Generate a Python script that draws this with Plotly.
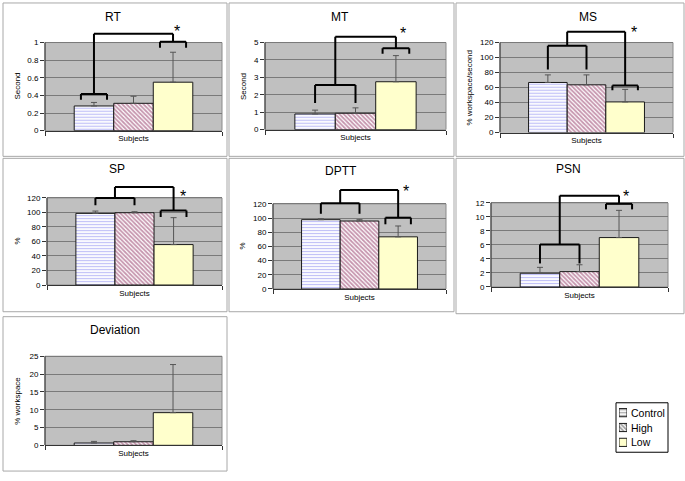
import plotly.graph_objects as go

# ---------------- data ----------------
groups = ["Control", "High", "Low"]
category = ["Subjects"]
titles = ["RT", "MT", "MS", "SP", "DPTT", "PSN", "Deviation"]
y_titles = ["Second", "Second", "% workspace/second", "%", "%", "", "% workspace"]

control_mean = [0.28, 0.90, 66.8, 98.7, 97.7, 1.96, 0.65]
control_err = [0.04, 0.22, 10.1, 3.2, 1.3, 0.84, 0.45]
high_mean = [0.31, 0.94, 63.7, 99.6, 95.8, 2.19, 1.0]
high_err = [0.08, 0.31, 13.2, 1.4, 1.9, 0.98, 0.3]
low_mean = [0.55, 2.75, 40.9, 55.7, 73.5, 7.05, 9.17]
low_err = [0.34, 1.50, 16.7, 37.1, 15.3, 3.88, 13.5]

y_max = [1, 5, 120, 120, 120, 12, 25]
y_dtick = [0.2, 1, 20, 20, 20, 2, 5]

# significance brackets (data units); None = no bracket
bracket_a_span = ["ctrl", "pair", "pair", "pair", "pair", "pair", None]
bracket_a_y = [0.415, 2.57, 115.6, 120, 120.9, 6.07, None]
bracket_a_leg = [0.35, 1.53, 84, 110, 106, 3.36, None]
bracket_b_y = [1.01, 4.68, 62.9, 102.8, 100.5, 11.86, None]
bracket_b_leg = [0.94, 4.36, 56.3, 93.7, 91.2, 11.07, None]
bracket_top = [1.10, 5.34, 134.5, 135, 139.5, 13.03, None]
star_y = [1.17, 5.76, 138.5, 127.7, 143, 13.5, None]
star_dx = [4, 7, 9, 9, 8, 7, 0]

# ---------------- layout geometry (px) ----------------
W, H = 685, 481
plot_left = [45, 265, 500, 47, 273, 491, 45]
plot_right = [222, 446, 673, 222, 446, 668, 222]
zero_px = [132, 131, 134, 288, 292, 290, 450]
top_tick_px = [43, 43, 43, 200, 206, 205, 360]
head_px = 20
title_pos = [(113, 17), (340, 17), (588, 17), (117, 171), (341, 173), (568, 171), (115, 333)]
ytitle_x = [18, 243, 470, 17, 242, 0, 18]
panel_boxes = [(3, 3, 227, 158), (229, 3, 454, 158), (456, 3, 684, 158),
               (3, 160, 227, 315), (229, 160, 454, 315), (456, 160, 684, 317),
               (3, 320, 227, 476)]
legend_box = (616, 407, 668, 457)
legend_icon_x = (619, 627)
legend_rows_y = (409.5, 454.5)
legend_text_x = 629

FONT = "Liberation Sans, Arial, sans-serif"
BARGAP = 0.33
bw = (1 - BARGAP) / 3
centers = [-bw, 0.0, bw]

fills = ["white", "white", "#ffffcc"]
pat_shapes = ["-", "\\", ""]
pat_fg = ["#7f7fef", "#8e2d5e", "#ffffcc"]
pat_size = [3, 3, 3]
pat_solid = [0.4, 0.6, 0.3]


def style(g):
    m = dict(color=fills[g], line=dict(color="#1a1a1a", width=1))
    if pat_shapes[g]:
        m["pattern"] = dict(shape=pat_shapes[g], fgcolor=pat_fg[g], bgcolor="white",
                            size=pat_size[g], solidity=pat_solid[g])
    return m


means = [control_mean, high_mean, low_mean]
errs = [control_err, high_err, low_err]

fig = go.Figure()
shapes = []
annotations = []

for b in panel_boxes:
    shapes.append(dict(type="rect", xref="paper", yref="paper",
                       x0=b[0] / W, x1=b[2] / W, y0=1 - b[3] / H, y1=1 - b[1] / H,
                       line=dict(color="#a8a8a8", width=1), layer="below"))

tick_font = dict(size=8, family=FONT, color="black")

for i in range(len(titles)):
    sfx = "" if i == 0 else str(i + 1)
    xa, ya = "x" + sfx, "y" + sfx
    for g in range(3):
        fig.add_trace(go.Bar(
            x=category, y=[means[g][i]], name=groups[g], marker=style(g),
            xaxis=xa, yaxis=ya, showlegend=False,
            error_y=dict(type="data", symmetric=False, array=[errs[g][i]], arrayminus=[0],
                         color="#555555", thickness=1, width=3),
            hoverinfo="skip"))
    top_px = top_tick_px[i] - head_px
    yrange_top = y_max[i] * (zero_px[i] - top_px) / (zero_px[i] - top_tick_px[i])
    n = int(round(y_max[i] / y_dtick[i]))
    tv = [round(k * y_dtick[i], 6) for k in range(n + 1)]
    fig.layout["xaxis" + sfx] = dict(
        domain=[plot_left[i] / W, plot_right[i] / W], anchor=ya, type="category",
        range=[-0.5, 0.5], showline=True, linecolor="#333333", linewidth=1,
        ticks="outside", tickson="boundaries", ticklen=4, tickcolor="#333333",
        tickfont=tick_font, showgrid=False, fixedrange=True)
    fig.layout["yaxis" + sfx] = dict(
        domain=[1 - zero_px[i] / H, 1 - top_px / H], anchor=xa,
        range=[0, yrange_top], tickvals=tv, showgrid=True, gridcolor="#7a7a7a",
        gridwidth=1, zeroline=False, showline=False, ticks="outside", ticklen=4,
        tickcolor="#333333", tickfont=tick_font, fixedrange=True)
    # gray plot area
    shapes.append(dict(type="rect", xref=xa + " domain", yref=ya, x0=0, x1=1, y0=0, y1=y_max[i],
                       fillcolor="#c0c0c0", line=dict(color="#8a8a8a", width=1), layer="below"))
    shapes.append(dict(type="line", xref=xa + " domain", yref=ya, x0=0, x1=0, y0=0, y1=y_max[i],
                       line=dict(color="#333333", width=1)))
    # titles
    annotations.append(dict(xref="paper", yref="paper", x=title_pos[i][0] / W,
                            y=1 - title_pos[i][1] / H, text=titles[i], showarrow=False,
                            xanchor="center", yanchor="middle",
                            font=dict(size=12, family=FONT, color="black")))
    if y_titles[i]:
        annotations.append(dict(xref="paper", yref="paper", x=ytitle_x[i] / W,
                                y=1 - (zero_px[i] + top_tick_px[i]) / 2 / H, text=y_titles[i],
                                textangle=-90, showarrow=False, xanchor="center",
                                yanchor="middle", font=dict(size=8, family=FONT, color="black")))
    # brackets
    if bracket_a_span[i] is not None:
        lw = dict(color="black", width=2)
        if bracket_a_span[i] == "pair":
            xa1, xa2 = centers[0], centers[1]
        else:
            xa1, xa2 = centers[0] - 0.33 * bw, centers[0] + 0.33 * bw
        xb1, xb2 = centers[2] - 0.33 * bw, centers[2] + 0.33 * bw
        mid_a = (xa1 + xa2) / 2
        mid_b = centers[2]
        segs = [
            (xa1, bracket_a_y[i], xa2, bracket_a_y[i]),
            (xa1, bracket_a_y[i], xa1, bracket_a_leg[i]),
            (xa2, bracket_a_y[i], xa2, bracket_a_leg[i]),
            (xb1, bracket_b_y[i], xb2, bracket_b_y[i]),
            (xb1, bracket_b_y[i], xb1, bracket_b_leg[i]),
            (xb2, bracket_b_y[i], xb2, bracket_b_leg[i]),
            (mid_a, bracket_a_y[i], mid_a, bracket_top[i]),
            (mid_a, bracket_top[i], mid_b, bracket_top[i]),
            (mid_b, bracket_top[i], mid_b, bracket_b_y[i]),
        ]
        for s in segs:
            shapes.append(dict(type="line", xref=xa, yref=ya, x0=s[0], y0=s[1], x1=s[2], y1=s[3],
                               line=lw, layer="above"))
        annotations.append(dict(xref=xa, yref=ya, x=mid_b, y=star_y[i], text="*",
                                showarrow=False, xshift=star_dx[i], yshift=-4,
                                font=dict(size=16, family=FONT, color="black")))

# ---------------- legend (box + pattern swatches + labels) ----------------
shapes.append(dict(type="rect", xref="paper", yref="paper",
                   x0=legend_box[0] / W, x1=legend_box[2] / W,
                   y0=1 - legend_box[3] / H, y1=1 - legend_box[1] / H,
                   fillcolor="white", line=dict(color="black", width=1), layer="below"))
fig.add_trace(go.Bar(
    y=groups, x=[1, 1, 1], orientation="h", width=0.55, xaxis="x8", yaxis="y8",
    showlegend=False, hoverinfo="skip",
    marker=dict(color=fills, line=dict(color="#1a1a1a", width=1),
                pattern=dict(shape=pat_shapes, fgcolor=pat_fg, bgcolor="white",
                             size=3, solidity=pat_solid))))
fig.layout["xaxis8"] = dict(domain=[legend_icon_x[0] / W, legend_icon_x[1] / W], anchor="y8",
                            range=[0, 1], visible=False, fixedrange=True)
fig.layout["yaxis8"] = dict(domain=[1 - legend_rows_y[1] / H, 1 - legend_rows_y[0] / H],
                            anchor="x8", type="category", autorange="reversed",
                            visible=False, fixedrange=True)
row_h = (legend_rows_y[1] - legend_rows_y[0]) / len(groups)
for g, name in enumerate(groups):
    annotations.append(dict(xref="paper", yref="paper", x=legend_text_x / W,
                            y=1 - (legend_rows_y[0] + row_h * (g + 0.5)) / H, text=name,
                            showarrow=False, xanchor="left", yanchor="middle",
                            font=dict(size=10.5, family=FONT, color="black")))

fig.update_layout(
    width=W, height=H, margin=dict(l=0, r=0, t=0, b=0),
    paper_bgcolor="white", plot_bgcolor="rgba(0,0,0,0)",
    barmode="group", bargap=BARGAP, bargroupgap=0,
    shapes=shapes, annotations=annotations, showlegend=False,
    font=dict(family=FONT, color="black"),
)

fig.write_html("out.html", config={"displayModeBar": False},
               post_script="document.body.style.margin='0';document.body.style.overflow='hidden';")
